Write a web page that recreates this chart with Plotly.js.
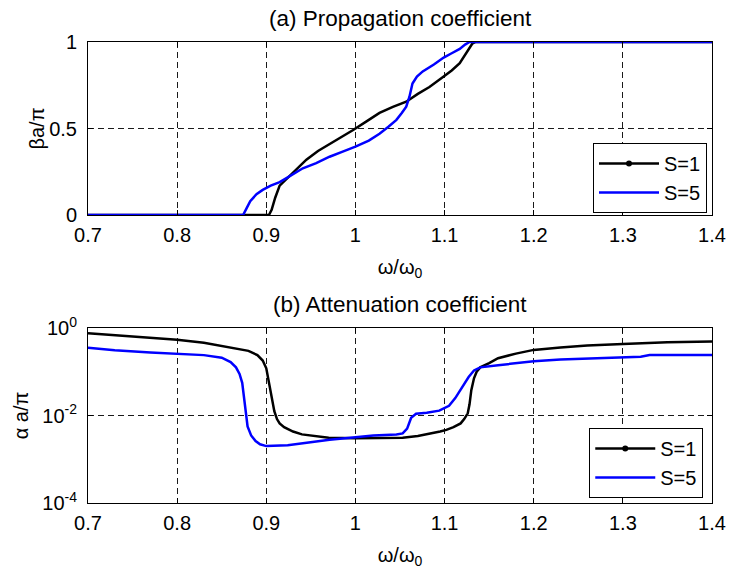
<!DOCTYPE html>
<html>
<head>
<meta charset="utf-8">
<script src="https://cdn.plot.ly/plotly-3.0.1.min.js"></script>
<style>
  html, body { margin: 0; padding: 0; background: #fff; }
  #chart { width: 731px; height: 571px; }
</style>
</head>
<body>
<div id="chart"></div>
<script>
// Normalised propagation coefficient βa/π versus ω/ω0
const betaS1X = [0.70, 0.903, 0.906, 0.910, 0.915, 0.925, 0.935, 0.945, 0.958, 0.971, 0.985, 0.997, 1.012, 1.027, 1.042, 1.057, 1.070, 1.083, 1.099, 1.108, 1.117, 1.122, 1.126, 1.131, 1.135, 1.40];
const betaS1Y = [0, 0, 0.03, 0.10, 0.17, 0.22, 0.27, 0.32, 0.37, 0.41, 0.45, 0.49, 0.54, 0.59, 0.625, 0.655, 0.70, 0.74, 0.80, 0.835, 0.877, 0.92, 0.954, 0.99, 1, 1];

const betaS5X = [0.70, 0.874, 0.878, 0.882, 0.889, 0.896, 0.905, 0.915, 0.925, 0.941, 0.956, 0.971, 0.985, 1.000, 1.015, 1.027, 1.037, 1.046, 1.052, 1.057, 1.0606, 1.064, 1.069, 1.0755, 1.088, 1.099, 1.108, 1.117, 1.123, 1.128, 1.40];
const betaS5Y = [0, 0, 0.04, 0.08, 0.12, 0.145, 0.17, 0.19, 0.22, 0.27, 0.30, 0.337, 0.365, 0.395, 0.43, 0.47, 0.51, 0.55, 0.59, 0.626, 0.684, 0.76, 0.80, 0.83, 0.87, 0.91, 0.935, 0.96, 0.985, 1, 1];

// Normalised attenuation coefficient αa/π versus ω/ω0
const alphaS1X = [0.70, 0.75, 0.80, 0.83, 0.86, 0.88, 0.89, 0.896, 0.900, 0.903, 0.906, 0.909, 0.912, 0.915, 0.92, 0.93, 0.94, 0.956, 0.97, 1.00, 1.03, 1.053, 1.07, 1.083, 1.095, 1.102, 1.11, 1.118, 1.122, 1.126, 1.128, 1.13, 1.133, 1.136, 1.14, 1.15, 1.16, 1.18, 1.20, 1.23, 1.26, 1.30, 1.35, 1.40];
const alphaS1Y = [0.76, 0.63, 0.54, 0.46, 0.35, 0.30, 0.24, 0.18, 0.12, 0.056, 0.025, 0.0126, 0.0083, 0.0066, 0.0054, 0.0043, 0.0037, 0.0033, 0.0031, 0.0030, 0.0030, 0.0031, 0.0034, 0.0038, 0.0043, 0.0047, 0.0054, 0.0066, 0.0083, 0.0112, 0.018, 0.038, 0.071, 0.10, 0.126, 0.158, 0.204, 0.26, 0.316, 0.36, 0.40, 0.43, 0.47, 0.49];

const alphaS5X = [0.70, 0.73, 0.77, 0.80, 0.83, 0.85, 0.86, 0.866, 0.870, 0.873, 0.875, 0.877, 0.879, 0.883, 0.888, 0.893, 0.90, 0.924, 0.95, 0.971, 1.00, 1.02, 1.046, 1.053, 1.058, 1.0625, 1.068, 1.08, 1.094, 1.105, 1.112, 1.12, 1.127, 1.133, 1.14, 1.16, 1.18, 1.20, 1.23, 1.28, 1.32, 1.33, 1.40];
const alphaS5Y = [0.355, 0.31, 0.275, 0.257, 0.24, 0.21, 0.166, 0.126, 0.089, 0.056, 0.025, 0.010, 0.0056, 0.0035, 0.0026, 0.0022, 0.0020, 0.0021, 0.0025, 0.0028, 0.0032, 0.0035, 0.0037, 0.0039, 0.0050, 0.0089, 0.011, 0.0115, 0.0129, 0.0166, 0.025, 0.046, 0.076, 0.107, 0.126, 0.141, 0.158, 0.174, 0.19, 0.21, 0.22, 0.24, 0.24];

const seriesNames = ['S=1', 'S=5'];
const xTicks = [0.7, 0.8, 0.9, 1.0, 1.1, 1.2, 1.3, 1.4];
const xTickText = ['0.7', '0.8', '0.9', '1', '1.1', '1.2', '1.3', '1.4'];
const betaTicks = [0, 0.5, 1];
const betaTickText = ['0', '0.5', '1'];
const alphaTicks = [1e-4, 1e-2, 1];
const alphaTickText = ['10<sup>-4</sup>', '10<sup>-2</sup>', '10<sup>0</sup>'];

const FONT = 'Liberation Sans, Arial, Helvetica, sans-serif';
const BLACK = '#000000';
const BLUE = '#0000ff';
const LW = 2.5;

const TOP_DOMAIN = [0.6247, 1];
const BOTTOM_DOMAIN = [0, 0.3796];

const traces = [
  // top panel
  { x: betaS1X, y: betaS1Y, xaxis: 'x', yaxis: 'y', mode: 'lines',
    line: { color: BLACK, width: LW }, showlegend: false, hoverinfo: 'skip' },
  { x: [null], y: [null], xaxis: 'x', yaxis: 'y', mode: 'lines+markers', name: seriesNames[0],
    line: { color: BLACK, width: LW }, marker: { color: BLACK, size: 6 }, legend: 'legend' },
  { x: betaS5X, y: betaS5Y, xaxis: 'x', yaxis: 'y', mode: 'lines', name: seriesNames[1],
    line: { color: BLUE, width: LW }, legend: 'legend' },
  // bottom panel
  { x: alphaS1X, y: alphaS1Y, xaxis: 'x2', yaxis: 'y2', mode: 'lines',
    line: { color: BLACK, width: LW }, showlegend: false, hoverinfo: 'skip' },
  { x: [null], y: [null], xaxis: 'x2', yaxis: 'y2', mode: 'lines+markers', name: seriesNames[0],
    line: { color: BLACK, width: LW }, marker: { color: BLACK, size: 6 }, legend: 'legend2' },
  { x: alphaS5X, y: alphaS5Y, xaxis: 'x2', yaxis: 'y2', mode: 'lines', name: seriesNames[1],
    line: { color: BLUE, width: LW }, legend: 'legend2' }
];

const axisCommon = {
  showline: true, linecolor: BLACK, linewidth: 1, mirror: 'ticks',
  ticks: 'inside', ticklen: 5, tickcolor: BLACK, tickwidth: 1,
  showgrid: true, gridcolor: '#1a1a1a', gridwidth: 1, griddash: '6px,4px',
  zeroline: false, tickfont: { family: FONT, size: 20, color: BLACK },
  fixedrange: true
};

const xAxis = (anchor, titleStandoff) => Object.assign({}, axisCommon, {
  anchor: anchor, range: [0.7, 1.4], tickvals: xTicks, ticktext: xTickText,
  ticklabelstandoff: 2,
  title: { text: 'ω/ω<sub>0</sub>', font: { family: FONT, size: 20, color: BLACK }, standoff: titleStandoff }
});

const legendStyle = {
  bgcolor: '#ffffff', bordercolor: BLACK, borderwidth: 1,
  font: { family: FONT, size: 20, color: BLACK }, itemwidth: 60, tracegroupgap: 0
};

const panelLabel = (text, y, yshift) => ({
  text: text, xref: 'paper', yref: 'paper', x: 0.5, y: y,
  xanchor: 'center', yanchor: 'bottom', yshift: yshift, showarrow: false,
  font: { family: FONT, size: 22.5, color: BLACK }
});

const layout = {
  width: 731, height: 571,
  margin: { l: 88, r: 19, t: 42, b: 68 },
  paper_bgcolor: '#ffffff', plot_bgcolor: '#ffffff',
  font: { family: FONT, size: 20, color: BLACK },
  xaxis: xAxis('y', 14),
  yaxis: Object.assign({}, axisCommon, {
    domain: TOP_DOMAIN, range: [0, 1], tickvals: betaTicks, ticktext: betaTickText,
    ticklabelstandoff: 6
  }),
  xaxis2: xAxis('y2', 14),
  yaxis2: Object.assign({}, axisCommon, {
    domain: BOTTOM_DOMAIN, type: 'log', range: [-4, 0], tickvals: alphaTicks, ticktext: alphaTickText,
    ticklabelstandoff: 6,
    title: { text: 'α a/π', font: { family: FONT, size: 20, color: BLACK }, standoff: 8 }
  }),
  legend: Object.assign({ x: 0.992, xanchor: 'right', y: 0.781, yanchor: 'top' }, legendStyle),
  legend2: Object.assign({ x: 0.986, xanchor: 'right', y: 0.1627, yanchor: 'top' }, legendStyle),
  annotations: [
    panelLabel('(a) Propagation coefficient', TOP_DOMAIN[1], 9),
    panelLabel('(b) Attenuation coefficient', BOTTOM_DOMAIN[1], 9),
    // y-axis label of the upper panel, placed close to its tick labels
    { text: 'βa/π', xref: 'paper', yref: 'paper', x: 0, y: (TOP_DOMAIN[0] + TOP_DOMAIN[1]) / 2,
      xanchor: 'center', yanchor: 'middle', xshift: -51, textangle: -90, showarrow: false,
      font: { family: FONT, size: 20, color: BLACK } }
  ],
  showlegend: true
};

Plotly.newPlot('chart', traces, layout, { staticPlot: true, displayModeBar: false });
</script>
</body>
</html>
